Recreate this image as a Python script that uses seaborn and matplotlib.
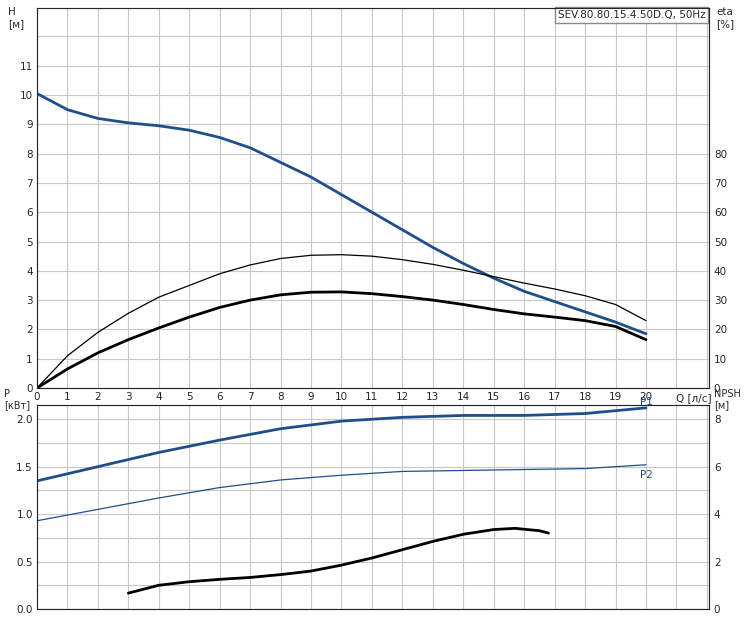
import numpy as np
import pandas as pd
import seaborn as sns
import matplotlib
matplotlib.use("Agg")
import matplotlib.pyplot as plt
from matplotlib.ticker import MultipleLocator

# data
q = list(range(0, 21))
head = [10.05, 9.5, 9.2, 9.05, 8.95, 8.8, 8.55, 8.2, 7.7, 7.2, 6.6,
        6.0, 5.4, 4.8, 4.25, 3.75, 3.3, 2.95, 2.6, 2.25, 1.85]
eta_thin = [0, 11, 19, 25.5, 31, 35, 39, 42, 44.2, 45.3, 45.5,
            45, 43.8, 42.2, 40.2, 38, 35.8, 33.8, 31.5, 28.5, 23]
eta_thick = [0, 6.5, 12, 16.5, 20.5, 24.2, 27.5, 30, 31.8, 32.7, 32.8,
             32.2, 31.2, 30, 28.5, 26.8, 25.3, 24.2, 23, 21, 16.5]
q_p = [0, 2, 4, 6, 8, 10, 12, 14, 16, 18, 20]
p1 = [1.35, 1.5, 1.65, 1.78, 1.9, 1.98, 2.02, 2.04, 2.04, 2.06, 2.12]
p2 = [0.93, 1.05, 1.17, 1.28, 1.36, 1.41, 1.45, 1.46, 1.47, 1.48, 1.52]
q_npsh = [3, 4, 5, 6, 7, 8, 9, 10, 11, 12, 13, 14, 15, 15.7, 16.5, 16.8]
npsh = [0.67, 1.0, 1.15, 1.25, 1.33, 1.45, 1.6, 1.85, 2.15, 2.5, 2.85,
        3.15, 3.35, 3.4, 3.3, 3.2]

sns.set_style("white")
plt.rcParams["font.family"] = ["DejaVu Sans"]
blue = "#1f4e8c"
W, H = 753, 621
fig = plt.figure(figsize=(W / 100, H / 100), dpi=100)

def grid_axes(rect):
    ax = fig.add_axes(rect)
    ax.xaxis.set_major_locator(MultipleLocator(1))
    ax.grid(True, color="#c8c8c8", lw=0.8)
    for s in ax.spines.values():
        s.set_color("#888888")
    ax.tick_params(labelsize=7.5, length=0, pad=3)
    ax.tick_params(which="minor", length=0)
    return ax

ax1 = grid_axes([37 / W, (H - 388) / H, 672 / W, 380 / H])
ax1.set_xlim(0, 22.07)
ax1.set_ylim(0, 12.97)
ax1.set_yticks(range(0, 12))
ax1.set_yticks(range(0, 13), minor=True)
ax1.grid(True, which="minor", axis="y", color="#c8c8c8", lw=0.8)
ax1.set_xticks(range(0, 21))
ax1.set_xticks(range(0, 23), minor=True)
ax1.grid(True, which="minor", axis="x", color="#c8c8c8", lw=0.8)
sns.lineplot(x=q, y=head, ax=ax1, color=blue, lw=2)
ax1r = ax1.twinx()
ax1r.set_ylim(0, 129.7)
ax1r.set_yticks(range(0, 90, 10))
ax1r.tick_params(labelsize=7.5, length=0)
sns.lineplot(x=q, y=eta_thin, ax=ax1r, color="black", lw=0.9)
sns.lineplot(x=q, y=eta_thick, ax=ax1r, color="black", lw=2)
ax1.text(0.995, 0.995, "SEV.80.80.15.4.50D.Q, 50Hz", transform=ax1.transAxes,
         ha="right", va="top", fontsize=7.5,
         bbox=dict(facecolor="white", edgecolor="#888888", pad=2))
fig.text(8 / W, 1 - 18 / H, "H\n[м]", fontsize=7.5, va="center")
fig.text(716 / W, 1 - 18 / H, "eta\n[%]", fontsize=7.5, va="center")
fig.text(676 / W, 1 - 398 / H, "Q [л/с]", fontsize=7.5, va="center")

ax2 = grid_axes([37 / W, (H - 609) / H, 672 / W, 204 / H])
ax2.set_xlim(0, 22.07)
ax2.set_ylim(0, 2.15)
ax2.set_xticks(range(0, 23))
ax2.set_xticklabels([])
ax2.set_yticks([0, 0.5, 1.0, 1.5, 2.0])
ax2.set_yticks(np.arange(0, 2.15, 0.25), minor=True)
ax2.grid(True, which="minor", axis="y", color="#c8c8c8", lw=0.8)
sns.lineplot(x=q_p, y=p1, ax=ax2, color=blue, lw=2)
sns.lineplot(x=q_p, y=p2, ax=ax2, color=blue, lw=0.9)
ax2.text(19.8, 2.13, "P1", color=blue, fontsize=7.5, va="bottom")
ax2.text(19.8, 1.47, "P2", color=blue, fontsize=7.5, va="top")
ax2r = ax2.twinx()
ax2r.set_ylim(0, 8.6)
ax2r.set_yticks([0, 2, 4, 6, 8])
ax2r.tick_params(labelsize=7.5, length=0)
sns.lineplot(x=q_npsh, y=npsh, ax=ax2r, color="black", lw=2)
fig.text(4 / W, 1 - 410 / H, "P\n[кВт]", fontsize=7, va="bottom",
         linespacing=1.1)
fig.text(714 / W, 1 - 410 / H, "NPSH\n[м]", fontsize=7, va="bottom",
         linespacing=1.1)
for a in (ax1, ax1r, ax2, ax2r):
    a.set_xlabel("")
    a.set_ylabel("")

fig.savefig("out.png", dpi=100)
